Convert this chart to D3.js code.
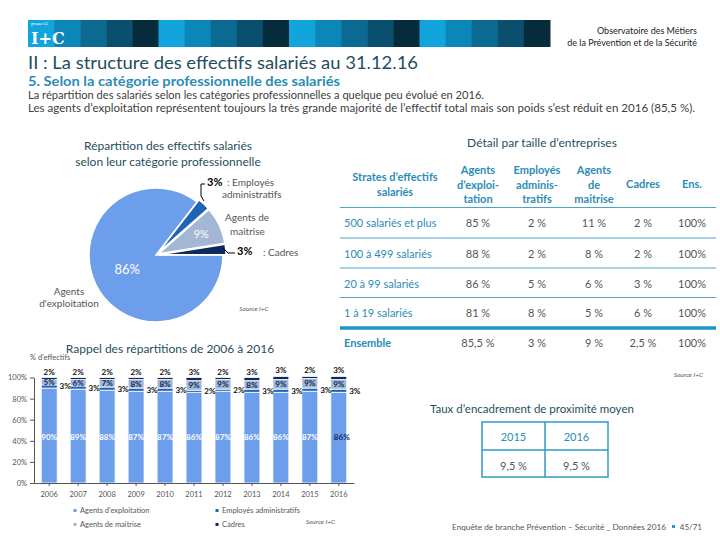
<!DOCTYPE html>
<html><head><meta charset="utf-8">
<script src="https://cdn.jsdelivr.net/npm/d3@7"></script>
<style>body{margin:0;background:#fff} text{font-family:Lato,'Open Sans',sans-serif}</style>
</head><body><svg id="c" width="720" height="540"></svg>
<script>
// ---------- DATA ----------
const years = ["2006","2007","2008","2009","2010","2011","2012","2013","2014","2015","2016"];
const exploitation = [90,89,88,87,87,86,87,86,86,87,86];
const employes     = [3,3,3,3,3,2,2,3,3,3,3];
const maitrise     = [5,6,7,8,8,9,9,8,9,9,9];
const cadres       = [2,2,2,2,2,3,2,3,3,2,3];
const yTicks = [0,20,40,60,80,100];
const seriesNames = ["Agents d'exploitation","Employés administratifs","Agents de maitrise","Cadres"];

const pieCategories = ["Agents d'exploitation","Employés administratifs","Agents de maitrise","Cadres"];
const pieValues = [85.5,3,9,2.5];
const pieLabels = ["86%","3%","9%","3%"];

const strates = ["500 salariés et plus","100 à 499 salariés","20 à 99 salariés","1 à 19 salariés"];
const colHeaders = [["Strates d’effectifs","salariés"],["Agents","d’exploi-","tation"],["Employés","adminis-","tratifs"],["Agents","de","maitrise"],["Cadres"],["Ens."]];
const tabExploitation = [85,88,86,81];
const tabEmployes = [2,2,5,8];
const tabMaitrise = [11,8,6,5];
const tabCadres = [2,2,3,6];
const tabTotal = [100,100,100,100];
const ensembleLabel = "Ensemble";
const ensemble = ["85,5 %","3 %","9 %","2,5 %","100%"];

const encYears = ["2015","2016"];
const encValues = ["9,5 %","9,5 %"];

// ---------- STYLE ----------
const svg = d3.select("#c");
const dark = "#1f4e60", teal = "#2b8cb8", grey = "#555";
const colors = ["#6d9eeb","#1f64b5","#a3b6d4","#0c2a5b"];

// header band
const bandPattern = ["#12a5dd","#0a86b8","#0b6a92","#0a4f6e","#062b3b"];
const blockW = (550-28)/20;
svg.selectAll("rect.band").data(d3.range(20)).join("rect")
  .attr("x", i=>28+i*blockW).attr("y",20).attr("width",blockW+0.5).attr("height",27)
  .attr("fill", i=>bandPattern[i%5]);
svg.append("text").attr("x",31).attr("y",25).attr("fill","#fff").attr("font-size",3.5).text("groupe I+C");
svg.append("text").attr("x",31).attr("y",44).attr("fill","#fff").attr("font-size",16)
  .attr("font-weight","bold").style("font-family","'DejaVu Serif',serif").text("I+C");
svg.append("text").attr("x",697).attr("y",34).attr("text-anchor","end").attr("font-size",9).attr("fill","#222").text("Observatoire des Métiers");
svg.append("text").attr("x",697).attr("y",46).attr("text-anchor","end").attr("font-size",9).attr("fill","#222").text("de la Prévention et de la Sécurité");

// titles
svg.append("text").attr("x",28).attr("y",69).attr("font-size",18).attr("fill",dark)
  .attr("textLength",390).attr("lengthAdjust","spacingAndGlyphs").text("II : La structure des effectifs salariés au 31.12.16");
svg.append("text").attr("x",28).attr("y",85.5).attr("font-size",13.5).attr("font-weight","bold").attr("fill",teal)
  .attr("textLength",312).attr("lengthAdjust","spacingAndGlyphs").text("5. Selon la catégorie professionnelle des salariés");
svg.append("text").attr("x",28).attr("y",99).attr("font-size",11).attr("fill","#404040")
  .attr("textLength",456).attr("lengthAdjust","spacingAndGlyphs").text("La répartition des salariés selon les catégories professionnelles a quelque peu évolué en 2016.");
svg.append("text").attr("x",28).attr("y",112).attr("font-size",11).attr("fill","#404040")
  .attr("textLength",667).attr("lengthAdjust","spacingAndGlyphs").text("Les agents d’exploitation représentent toujours la très grande majorité de l’effectif total mais son poids s’est réduit en 2016 (85,5 %).");

// ---------- PIE ----------
svg.append("text").attr("x",168).attr("y",150).attr("text-anchor","middle").attr("font-size",12).attr("fill",dark).text("Répartition des effectifs salariés");
svg.append("text").attr("x",168).attr("y",166).attr("text-anchor","middle").attr("font-size",12).attr("fill",dark).text("selon leur catégorie professionnelle");
const pcx = 156, pcy = 255, pr = 67;
const pie = d3.pie().sort(null).startAngle(Math.PI/2).endAngle(Math.PI/2+2*Math.PI)(pieValues);
const arc = d3.arc().innerRadius(0).outerRadius(pr);
const pg = svg.append("g").attr("transform",`translate(${pcx},${pcy})`);
pg.selectAll("path").data(pie).join("path")
  .attr("d",arc).attr("fill",(d,i)=>colors[i]).attr("stroke","#fff").attr("stroke-width",1.5)
  .attr("transform",(d,i)=>{ if(i===0) return null; const a=(d.startAngle+d.endAngle)/2; return `translate(${3*Math.sin(a)},${-3*Math.cos(a)})`;});
const lab = (d,r)=>{const a=(d.startAngle+d.endAngle)/2; return [r*Math.sin(a), -r*Math.cos(a)];};
let p0 = lab(pie[0],32);
pg.append("text").attr("x",p0[0]).attr("y",p0[1]+5).attr("text-anchor","middle").attr("font-size",13).attr("fill","#fff").text(pieLabels[0]);
let p2 = lab(pie[2],50);
pg.append("text").attr("x",p2[0]).attr("y",p2[1]+4).attr("text-anchor","middle").attr("font-size",11).attr("fill","#fff").text(pieLabels[2]);
svg.append("polyline").attr("points","205,184 201,184 201,196 204,201").attr("fill","none").attr("stroke","#000").attr("stroke-width",1);
svg.append("text").attr("x",207).attr("y",186).attr("font-size",11).attr("font-weight","bold").attr("fill","#000").text(pieLabels[1]);
svg.append("text").attr("x",227).attr("y",186).attr("font-size",10).attr("fill",grey).text(": Employés");
svg.append("text").attr("x",222).attr("y",198).attr("font-size",10).attr("fill",grey).text("administratifs");
svg.append("text").attr("x",225).attr("y",221).attr("font-size",10).attr("fill",grey).text("Agents de");
svg.append("text").attr("x",230).attr("y",235).attr("font-size",10).attr("fill",grey).text("maitrise");
svg.append("polyline").attr("points","223,248 228,253 235,253").attr("fill","none").attr("stroke","#000").attr("stroke-width",1);
svg.append("text").attr("x",237).attr("y",255).attr("font-size",11).attr("font-weight","bold").attr("fill","#000").text(pieLabels[3]);
svg.append("text").attr("x",263).attr("y",256).attr("font-size",10).attr("fill",grey).text(": Cadres");
svg.append("text").attr("x",69).attr("y",295).attr("text-anchor","middle").attr("font-size",10).attr("fill",grey).text("Agents");
svg.append("text").attr("x",69).attr("y",307).attr("text-anchor","middle").attr("font-size",10).attr("fill",grey).text("d'exploitation");
svg.append("text").attr("x",254).attr("y",311).attr("text-anchor","middle").attr("font-size",6.5).attr("font-style","italic").attr("fill",grey).text("Source I+C");

// ---------- TABLE ----------
svg.append("text").attr("x",542).attr("y",147).attr("text-anchor","middle").attr("font-size",12).attr("fill",dark).text("Détail par taille d’entreprises");
const colX = [395,478,537,594,643,692];
colHeaders.forEach((lines,c)=>{
  const n = lines.length;
  const baseY = n===3 ? 174 : (n===2 ? 181 : 188);
  lines.forEach((t,k)=>svg.append("text").attr("x",colX[c]).attr("y",baseY+k*14.5).attr("text-anchor","middle")
    .attr("font-size",11).attr("font-weight","bold").attr("fill",teal).text(t));
});
const rowY = [227,258,288,317];
const lineY = [207.5,238,268,297.5];
lineY.forEach(y=>svg.append("line").attr("x1",340).attr("x2",716).attr("y1",y).attr("y2",y).attr("stroke","#4aa3c8").attr("stroke-width",1));
svg.append("line").attr("x1",340).attr("x2",716).attr("y1",328).attr("y2",328).attr("stroke","#1f97c8").attr("stroke-width",3.5);
const fmt = v=>v+" %";
strates.forEach((s,r)=>{
  svg.append("text").attr("x",344).attr("y",rowY[r]).attr("font-size",11).attr("fill",teal).text(s);
  [tabExploitation[r],tabEmployes[r],tabMaitrise[r],tabCadres[r]].forEach((v,c)=>
    svg.append("text").attr("x",colX[c+1]).attr("y",rowY[r]).attr("text-anchor","middle").attr("font-size",11).attr("fill",grey).text(fmt(v)));
  svg.append("text").attr("x",colX[5]).attr("y",rowY[r]).attr("text-anchor","middle").attr("font-size",11).attr("fill",grey).text(tabTotal[r]+"%");
});
svg.append("text").attr("x",344).attr("y",347).attr("font-size",11).attr("font-weight","bold").attr("fill",teal).text(ensembleLabel);
ensemble.forEach((t,c)=>svg.append("text").attr("x",colX[c+1]).attr("y",347).attr("text-anchor","middle").attr("font-size",11).attr("fill",grey).text(t));
svg.append("text").attr("x",703).attr("y",377).attr("text-anchor","end").attr("font-size",6.5).attr("font-style","italic").attr("fill",grey).text("Source I+C");

// ---------- BAR CHART ----------
svg.append("text").attr("x",170).attr("y",353).attr("text-anchor","middle").attr("font-size",12).attr("fill",dark).text("Rappel des répartitions de 2006 à 2016");
svg.append("text").attr("x",30).attr("y",360).attr("font-size",7.5).attr("fill",grey).text("% d'effectifs");
const x = d3.scaleBand().domain(years).range([34,354]).paddingInner(0.45).paddingOuter(0.25);
const y = d3.scaleLinear().domain([0,100]).range([483,377.5]);
const rows = years.map((yr,i)=>({year:yr, a:exploitation[i], b:employes[i], c:maitrise[i], d:cadres[i]}));
const stack = d3.stack().keys(["a","b","c","d"])(rows);
const bg = svg.append("g");
stack.forEach((layer,li)=>{
  bg.selectAll(null).data(layer).join("rect")
    .attr("x",d=>x(d.data.year)).attr("width",x.bandwidth())
    .attr("y",d=>y(d[1])).attr("height",d=>y(d[0])-y(d[1]))
    .attr("fill",colors[li]).attr("stroke","#fff").attr("stroke-width",0.8);
});
const yAxis = svg.append("g").attr("transform","translate(34,0)")
  .call(d3.axisLeft(y).tickValues(yTicks).tickFormat(d=>d+"%").tickSize(4).tickSizeOuter(0));
yAxis.selectAll("text").attr("font-size",7.5).attr("fill",grey).style("font-family","Lato");
yAxis.selectAll("line,path").attr("stroke","#555");
const xAxis = svg.append("g").attr("transform","translate(0,483)")
  .call(d3.axisBottom(x).tickSize(3).tickSizeOuter(0).tickPadding(6));
xAxis.selectAll("text").attr("font-size",7.5).attr("fill",grey).style("font-family","Lato");
xAxis.selectAll("line,path").attr("stroke","#555");
const lg = svg.append("g").attr("font-size",8).attr("font-weight","bold").attr("text-anchor","middle");
stack[0].forEach((d,i)=>{
  const cx = x(d.data.year)+x.bandwidth()/2;
  const last = i===years.length-1;
  lg.append("text").attr("x",cx+(last?3:0)).attr("y",440).attr("fill",last?"#0c2a5b":"#fff").text(exploitation[i]+"%");
});
stack[1].forEach((d,i)=>{
  const cx = x(d.data.year)+x.bandwidth()+8;
  lg.append("text").attr("x",cx).attr("y",(y(d[0])+y(d[1]))/2+3).attr("fill","#111").text(employes[i]+"%");
});
stack[2].forEach((d,i)=>{
  const cx = x(d.data.year)+x.bandwidth()/2;
  lg.append("text").attr("x",cx).attr("y",(y(d[0])+y(d[1]))/2+3).attr("fill","#0c2a5b").text(maitrise[i]+"%");
});
stack[3].forEach((d,i)=>{
  const cx = x(d.data.year)+x.bandwidth()/2;
  lg.append("text").attr("x",cx).attr("y",y(d[1])-3).attr("fill","#111").text(cadres[i]+"%");
});
const legPos = [[75,513],[217,513],[75,527],[217,527]];
seriesNames.forEach((n,i)=>{
  svg.append("rect").attr("x",legPos[i][0]-1.5).attr("y",legPos[i][1]-4).attr("width",3).attr("height",3).attr("fill",colors[i]);
  svg.append("text").attr("x",legPos[i][0]+5).attr("y",legPos[i][1]).attr("font-size",7.5).attr("fill",grey).text(n);
});
svg.append("text").attr("x",335).attr("y",524).attr("text-anchor","end").attr("font-size",6.5).attr("font-style","italic").attr("fill",grey).text("Source I+C");

// ---------- ENCADREMENT ----------
svg.append("text").attr("x",430).attr("y",413).attr("font-size",11.5).attr("fill",dark).text("Taux d’encadrement de proximité moyen");
const encX = d3.scaleBand().domain(encYears).range([482,608]);
const eg = svg.append("g");
eg.append("rect").attr("x",482).attr("y",422).attr("width",126).attr("height",55).attr("fill","none").attr("stroke","#2e9ac4").attr("stroke-width",1.5);
eg.append("line").attr("x1",545).attr("x2",545).attr("y1",422).attr("y2",477).attr("stroke","#2e9ac4").attr("stroke-width",1.5);
eg.append("line").attr("x1",482).attr("x2",608).attr("y1",450).attr("y2",450).attr("stroke","#2e9ac4").attr("stroke-width",1.5);
encYears.forEach((t,i)=>{
  const cx = encX(t)+encX.bandwidth()/2;
  eg.append("text").attr("x",cx).attr("y",441).attr("text-anchor","middle").attr("font-size",11).attr("fill",teal).text(t);
  eg.append("text").attr("x",cx).attr("y",470).attr("text-anchor","middle").attr("font-size",11).attr("fill",grey).text(encValues[i]);
});

// footer
svg.append("text").attr("x",452).attr("y",530).attr("font-size",7.5).attr("fill",grey)
  .attr("textLength",214).attr("lengthAdjust","spacingAndGlyphs").text("Enquête de branche Prévention – Sécurité _ Données 2016");
svg.append("rect").attr("x",672).attr("y",525).attr("width",3).attr("height",3).attr("fill","#2e9ac4");
svg.append("text").attr("x",702).attr("y",530).attr("text-anchor","end").attr("font-size",8).attr("fill",grey).text("45/71");
</script></body></html>
